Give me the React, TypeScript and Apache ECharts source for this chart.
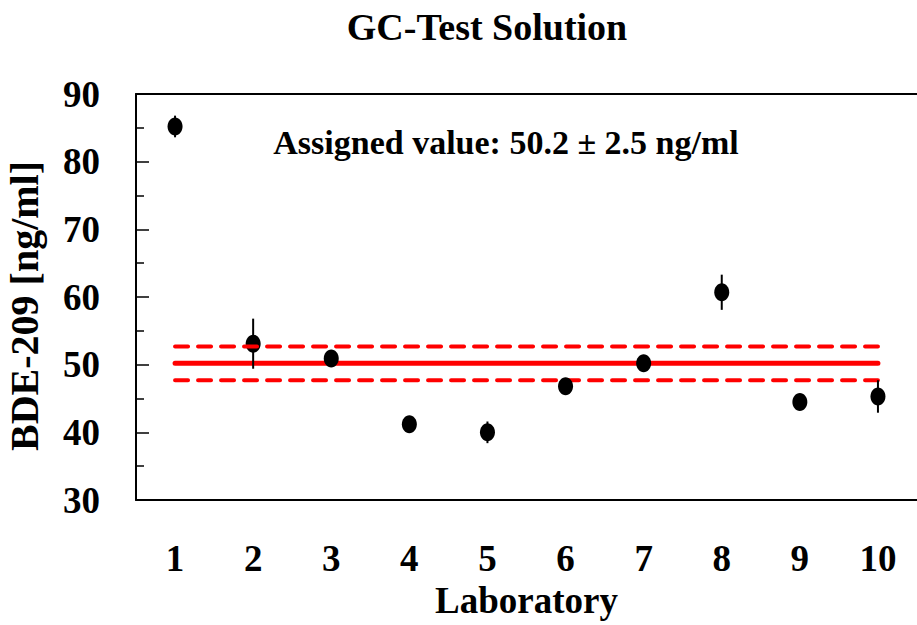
import React, { useEffect, useRef } from "react";
import * as echarts from "echarts";

const labs = ["1", "2", "3", "4", "5", "6", "7", "8", "9", "10"];
const means = [85.2, 53.1, 50.9, 41.2, 40.0, 46.8, 50.2, 60.7, 44.5, 45.3];
const errors = [1.6, 3.7, 0.8, 0.5, 1.6, 0.5, 0.5, 2.6, 0.5, 2.4];
const assigned = 50.2;
const uncertainty = 2.5;
const yTicks = { min: 30, max: 90, interval: 10 };

const FONT = "'Liberation Serif', 'Times New Roman', serif";

export default function App() {
  const ref = useRef<HTMLDivElement>(null);
  useEffect(() => {
    if (!ref.current) return;
    const chart = echarts.init(ref.current, undefined, { renderer: "svg" });
    const pointData = labs.map((_, i) => [i, means[i], errors[i]]);
    const textStyle = { fontFamily: FONT, fontWeight: "bold", color: "#000" };
    chart.setOption({
      animation: false,
      backgroundColor: "#fff",
      grid: { left: 136, right: 0, top: 94, bottom: 125, containLabel: false, outerBoundsMode: "none" },
      xAxis: [
        {
          type: "category",
          data: labs,
          boundaryGap: true,
          axisLine: { lineStyle: { color: "#000", width: 2 } },
          axisTick: { inside: true, length: 13, interval: 0, lineStyle: { color: "#000", width: 1.5 } },
          axisLabel: { ...textStyle, fontSize: 37, margin: 40, interval: 0 },
          name: "Laboratory",
          nameLocation: "middle",
          nameGap: 82,
          nameTextStyle: { ...textStyle, fontSize: 37 },
          splitLine: { show: false },
        },
        {
          type: "category",
          data: labs,
          position: "top",
          axisLine: { lineStyle: { color: "#000", width: 2 } },
          axisTick: { show: false },
          axisLabel: { show: false },
          splitLine: { show: false },
        },
      ],
      yAxis: {
        type: "value",
        min: yTicks.min,
        max: yTicks.max,
        interval: yTicks.interval,
        axisLine: { show: true, lineStyle: { color: "#000", width: 2 } },
        axisTick: { show: true, inside: true, length: 13, lineStyle: { color: "#000", width: 1.5 } },
        minorTick: { show: true, splitNumber: 2, length: 8, lineStyle: { color: "#000", width: 1.5 } },
        axisLabel: { ...textStyle, fontSize: 37, margin: 36 },
        splitLine: { show: false },
        name: "BDE-209 [ng/ml]",
        nameLocation: "middle",
        nameGap: 92,
        nameTextStyle: { ...textStyle, fontSize: 40, padding: [0, 18, 0, 0] },
      },
      series: [
        {
          type: "line",
          data: labs.map(() => assigned),
          symbol: "none",
          lineStyle: { color: "#ff0000", width: 5, cap: "round" },
          z: 2,
        },
        {
          type: "line",
          data: labs.map(() => assigned - uncertainty),
          symbol: "none",
          lineStyle: { color: "#ff0000", width: 4, type: [13, 10], cap: "round" },
          z: 2,
        },
        {
          type: "custom",
          data: pointData,
          encode: { x: 0, y: 1 },
          z: 3,
          renderItem: (params: any, api: any) => {
            const i = api.value(0);
            const v = api.value(1);
            const e = api.value(2);
            const c = api.coord([i, v]);
            const hi = api.coord([i, v + e]);
            const lo = api.coord([i, v - e]);
            return {
              type: "group",
              children: [
                {
                  type: "line",
                  shape: { x1: c[0], y1: hi[1], x2: c[0], y2: lo[1] },
                  style: { stroke: "#000", lineWidth: 2 },
                },
                {
                  type: "ellipse",
                  shape: { cx: c[0], cy: c[1], rx: 7.5, ry: 9 },
                  style: { fill: "#000" },
                },
              ],
            };
          },
        },
        {
          type: "line",
          data: labs.map(() => assigned + uncertainty),
          symbol: "none",
          lineStyle: { color: "#ff0000", width: 4, type: [13, 10], cap: "round" },
          z: 4,
        },
      ],
      graphic: [
        {
          type: "text",
          x: 487,
          y: 27,
          style: {
            text: "GC-Test Solution",
            font: `bold 38px ${FONT}`,
            fill: "#000",
            align: "center",
            verticalAlign: "middle",
          },
        },
        {
          type: "text",
          x: 506,
          y: 142,
          style: {
            text: "Assigned value: 50.2 ± 2.5 ng/ml",
            font: `bold 34px ${FONT}`,
            fill: "#000",
            align: "center",
            verticalAlign: "middle",
          },
        },
      ],
    });
    return () => chart.dispose();
  }, []);
  return (
    <div
      ref={ref}
      style={{ position: "fixed", left: 0, top: 0, width: 917, height: 625, background: "#fff" }}
    />
  );
}
